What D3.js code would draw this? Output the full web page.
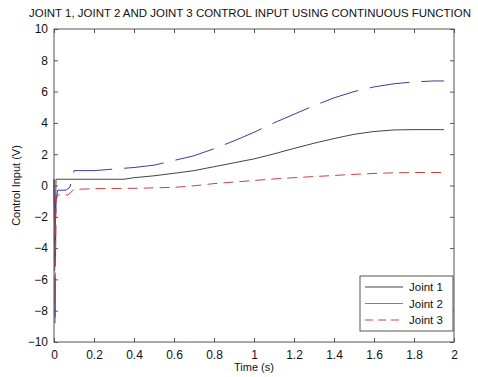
<!DOCTYPE html>
<html lang="en">
<head>
<meta charset="utf-8">
<title>Joint control input</title>
<script src="https://cdn.jsdelivr.net/npm/d3@7"></script>
<style>
  body { margin:0; background:#fff; }
  svg { display:block; }
  text { font-family: Arial, "Liberation Sans", sans-serif; fill:#111; }
  .tick text { fill:#111; }
</style>
</head>
<body>
<div id="chart"></div>
<script>
// values: [time (s), control input (V)]
var joint1 = [[0,0.4],[0.005,-4],[0.01,0.4],[0.35,0.4],[0.4,0.5],[0.5,0.62],[0.6,0.78],[0.7,0.95],[0.8,1.2],
  [0.9,1.45],[1.0,1.7],[1.1,2.02],[1.2,2.37],[1.3,2.7],[1.4,3.0],[1.5,3.27],[1.6,3.45],[1.7,3.55],[1.8,3.57],[1.95,3.57]];
var joint2 = [[0,0.4],[0.005,-9],[0.01,-1],[0.018,-0.3],[0.06,-0.3],[0.08,-0.1],[0.1,0.95],[0.2,0.95],[0.3,1.05],
  [0.4,1.15],[0.5,1.3],[0.6,1.6],[0.7,1.9],[0.8,2.35],[0.9,2.85],[1.0,3.4],[1.1,4.0],[1.2,4.55],[1.3,5.1],
  [1.4,5.6],[1.5,6.0],[1.6,6.3],[1.7,6.5],[1.8,6.62],[1.9,6.68],[1.95,6.68]];
var joint3 = [[0,0.4],[0.005,-7.5],[0.01,-1],[0.018,-0.6],[0.07,-0.6],[0.1,-0.25],[0.2,-0.2],[0.4,-0.18],
  [0.6,-0.12],[0.7,-0.02],[0.8,0.12],[0.9,0.22],[1.0,0.32],[1.1,0.42],[1.2,0.5],[1.3,0.57],[1.4,0.64],
  [1.5,0.71],[1.6,0.77],[1.7,0.81],[1.8,0.83],[1.95,0.83]];
var seriesNames = ["Joint 1","Joint 2","Joint 3"];
var xTicks = [0,0.2,0.4,0.6,0.8,1,1.2,1.4,1.6,1.8,2];
var yTicks = [-10,-8,-6,-4,-2,0,2,4,6,8,10];

var W = 478, H = 377,
    pL = 54, pR = 454, pT = 29, pB = 342;

var svg = d3.select('#chart').append('svg').attr('width', W).attr('height', H);

var x = d3.scaleLinear().domain([0,2]).range([pL,pR]);
var y = d3.scaleLinear().domain([-10,10]).range([pB,pT]);

// curves
var line = d3.line().x(function(d){ return x(d[0]); }).y(function(d){ return y(d[1]); });
var styles = [
  {data:joint1, color:'#444', dash:null},
  {data:joint2, color:'#3c3ca0', dash:'40,12'},
  {data:joint3, color:'#d04040', dash:'10,6'}
];
var g = svg.append('g');
styles.forEach(function(s){
  g.append('path').attr('d', line(s.data))
    .attr('fill','none').attr('stroke', s.color).attr('stroke-width',1)
    .attr('stroke-dasharray', s.dash);
});

// axes, ticks inward on all four sides
function fmt(d){ return d3.format('')(d); }
svg.append('g').attr('transform','translate(0,'+pB+')')
  .call(d3.axisBottom(x).tickValues(xTicks).tickFormat(fmt).tickSizeInner(-4).tickSizeOuter(0).tickPadding(8))
  .call(function(a){ a.select('.domain').remove(); });
svg.append('g').attr('transform','translate(0,'+pT+')')
  .call(d3.axisTop(x).tickValues(xTicks).tickFormat('').tickSizeInner(-4).tickSizeOuter(0))
  .call(function(a){ a.select('.domain').remove(); });
svg.append('g').attr('transform','translate('+pL+',0)')
  .call(d3.axisLeft(y).tickValues(yTicks).tickFormat(fmt).tickSizeInner(-4).tickSizeOuter(0).tickPadding(6))
  .call(function(a){ a.select('.domain').remove(); });
svg.append('g').attr('transform','translate('+pR+',0)')
  .call(d3.axisRight(y).tickValues(yTicks).tickFormat('').tickSizeInner(-4).tickSizeOuter(0))
  .call(function(a){ a.select('.domain').remove(); });
svg.selectAll('.tick line').attr('stroke','#555');
svg.selectAll('.tick text').attr('font-size','12px').attr('font-family','Arial, "Liberation Sans", sans-serif');

svg.append('rect').attr('x',pL).attr('y',pT).attr('width',pR-pL).attr('height',pB-pT)
  .attr('fill','none').attr('stroke','#555').attr('stroke-width',1);

// labels
svg.append('text').attr('x',250).attr('y',17).attr('text-anchor','middle')
  .attr('font-size','11px').attr('textLength',442).attr('lengthAdjust','spacingAndGlyphs')
  .text('JOINT 1, JOINT 2 AND JOINT 3 CONTROL INPUT USING CONTINUOUS FUNCTION');
svg.append('text').attr('x',(pL+pR)/2).attr('y',371).attr('text-anchor','middle')
  .attr('font-size','11px').text('Time (s)');
svg.append('text').attr('transform','translate(20,'+((pT+pB)/2)+') rotate(-90)')
  .attr('text-anchor','middle').attr('font-size','11px').text('Control Input (V)');

// legend
var lg = svg.append('g');
lg.append('rect').attr('x',360).attr('y',276).attr('width',93).attr('height',55)
  .attr('fill','#fff').attr('stroke','#555');
seriesNames.forEach(function(n,i){
  var yy = 287 + i*16.5;
  lg.append('line').attr('x1',365).attr('x2',403).attr('y1',yy).attr('y2',yy)
    .attr('stroke', i==1 ? '#7a7ab0' : styles[i].color).attr('stroke-width',1)
    .attr('stroke-dasharray', i==2 ? '8,5' : null);
  lg.append('text').attr('x',409).attr('y',yy+4).attr('font-size','11.5px').text(n);
});
</script>
</body>
</html>
